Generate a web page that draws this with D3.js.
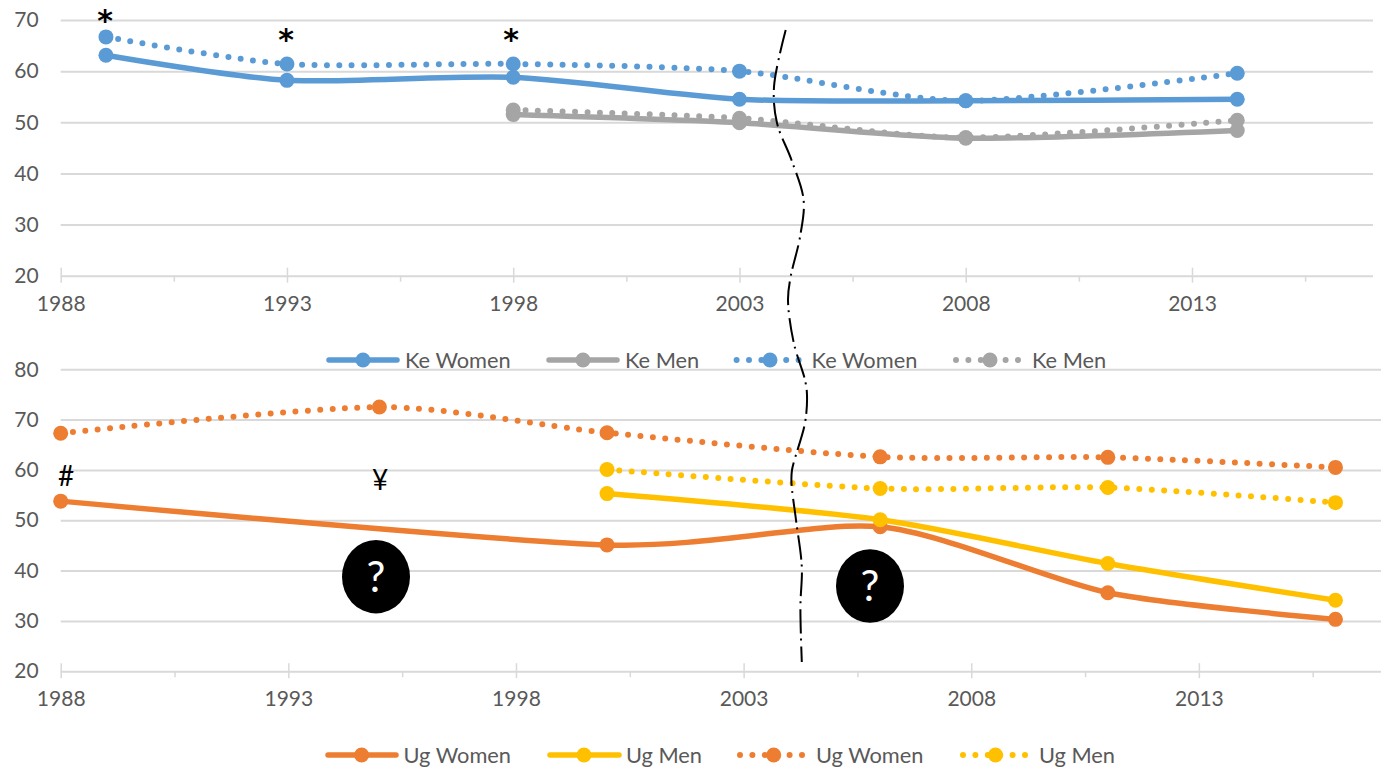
<!DOCTYPE html>
<html>
<head>
<meta charset="utf-8">
<script src="https://cdn.jsdelivr.net/npm/d3@7"></script>
<style>
  body { margin: 0; background: #fff; }
  text { font-family: Lato, sans-serif; }
</style>
</head>
<body>
<div id="chart"></div>
<script>
// Kenya panel
var keYears = [1989, 1993, 1998, 2003, 2008, 2014];
var keWomenSolid = [63.1, 58.2, 58.8, 54.5, 54.2, 54.5];
var keWomenDotted = [66.7, 61.4, 61.4, 60.0, 54.2, 59.6];
var keMenSolid = [null, null, 51.5, 49.9, 46.9, 48.4];
var keMenDotted = [null, null, 52.4, 50.8, 47.0, 50.4];

// Uganda panel
var ugYears = [1988, 1995, 2000, 2006, 2011, 2016];
var ugWomenSolid = [53.8, null, 45.1, 48.7, 35.6, 30.3];
var ugWomenDotted = [67.3, 72.5, 67.4, 62.6, 62.5, 60.5];
var ugMenSolid = [null, null, 55.3, 50.1, 41.4, 34.1];
var ugMenDotted = [null, null, 60.1, 56.3, 56.5, 53.5];

var keTicks = [20, 30, 40, 50, 60, 70];
var ugTicks = [20, 30, 40, 50, 60, 70, 80];
var yearTicks = [1988, 1993, 1998, 2003, 2008, 2013];
var minorTicks = [1990.5, 1995.5, 2000.5, 2005.5, 2010.5, 2015.5];

var blue = "#5B9BD5", grey = "#A5A5A5", orange = "#ED7D31", yellow = "#FFC000";

var svg = d3.select("#chart").append("svg")
    .attr("width", 1397)
    .attr("height", 767)
    .style("display", "block");

function drawPanel(p) {
    var x = d3.scaleLinear().domain([1988, 2017]).range([p.left, p.right]);
    var y = d3.scaleLinear().domain([20, p.top]).range([p.y0, p.y1]);
    var g = svg.append("g");

    // gridlines + value labels
    var yAxis = g.append("g")
        .attr("transform", "translate(" + p.left + ",0)")
        .call(d3.axisLeft(y).tickValues(p.ticks).tickSize(-(p.right - p.left)).tickPadding(22));
    yAxis.select(".domain").remove();
    yAxis.selectAll("line").attr("stroke", "#D9D9D9").attr("stroke-width", 2);
    yAxis.selectAll("text").attr("fill", "#595959").style("font-size", "21px");

    // year ticks, they cross the baseline
    var xAxis = g.append("g")
        .attr("transform", "translate(0," + (p.y0 - 8) + ")")
        .call(d3.axisBottom(x).tickValues(yearTicks).tickFormat(d3.format("d")).tickSize(15).tickPadding(13));
    xAxis.select(".domain").remove();
    xAxis.selectAll("line").attr("stroke", "#D9D9D9").attr("stroke-width", 1.5);
    xAxis.selectAll("text").attr("fill", "#595959").style("font-size", "21px");

    var minor = g.append("g")
        .attr("transform", "translate(0," + p.y0 + ")")
        .call(d3.axisBottom(x).tickValues(minorTicks).tickSize(6).tickFormat(""));
    minor.select(".domain").remove();
    minor.selectAll("line").attr("stroke", "#D9D9D9").attr("stroke-width", 1.5);

    var line = d3.line()
        .x(function(d) { return x(d.year); })
        .y(function(d) { return y(d.v); })
        .curve(d3.curveCardinal.tension(0.25));

    p.series.forEach(function(s) {
        var pts = p.years.map(function(yr, i) { return {year: yr, v: s.values[i]}; })
            .filter(function(d) { return d.v !== null; });
        var path = g.append("path")
            .datum(pts)
            .attr("fill", "none")
            .attr("stroke", s.color)
            .attr("stroke-linecap", "round")
            .attr("stroke-width", s.dotted ? 6 : 5.5)
            .attr("d", line);
        if (s.dotted) path.attr("stroke-dasharray", "0 12.4");
        g.selectAll(null)
            .data(pts)
            .enter().append("circle")
            .attr("cx", function(d) { return x(d.year); })
            .attr("cy", function(d) { return y(d.v); })
            .attr("r", 7.5)
            .attr("fill", s.color);
    });

    // legend
    var lg = g.append("g").attr("transform", "translate(0," + p.legendY + ")");
    p.series.forEach(function(s) {
        var ent = s.legend;
        lg.append("line")
            .attr("x1", ent.x1).attr("x2", ent.x2)
            .attr("stroke", s.color)
            .attr("stroke-linecap", "round")
            .attr("stroke-width", s.dotted ? 6 : 5.5)
            .attr("stroke-dasharray", s.dotted ? "0 12.4" : null);
        lg.append("circle")
            .attr("cx", ent.mx)
            .attr("r", 7.5)
            .attr("fill", s.color);
        lg.append("text")
            .attr("x", ent.tx)
            .attr("dy", "0.35em")
            .attr("fill", "#595959")
            .style("font-size", "21.8px")
            .text(s.name);
    });
}

drawPanel({
    left: 60.7, right: 1373, y0: 275.7, y1: 20, top: 70,
    ticks: keTicks, years: keYears, legendY: 360,
    series: [
        {name: "Ke Women", values: keWomenSolid, color: blue, legend: {x1: 329, x2: 397, mx: 363, tx: 405}},
        {name: "Ke Men", values: keMenSolid, color: grey, legend: {x1: 549, x2: 617, mx: 583, tx: 625}},
        {name: "Ke Women", values: keWomenDotted, color: blue, dotted: true, legend: {x1: 736.6, x2: 800, mx: 770, tx: 811.6}},
        {name: "Ke Men", values: keMenDotted, color: grey, dotted: true, legend: {x1: 956, x2: 1020, mx: 990, tx: 1032}}
    ]
});

drawPanel({
    left: 60.7, right: 1381, y0: 671.2, y1: 369.3, top: 80,
    ticks: ugTicks, years: ugYears, legendY: 755,
    series: [
        {name: "Ug Women", values: ugWomenSolid, color: orange, legend: {x1: 328, x2: 396, mx: 361.6, tx: 403.6}},
        {name: "Ug Men", values: ugMenSolid, color: yellow, legend: {x1: 550, x2: 619, mx: 584, tx: 626}},
        {name: "Ug Women", values: ugWomenDotted, color: orange, dotted: true, legend: {x1: 740, x2: 805, mx: 773.7, tx: 816}},
        {name: "Ug Men", values: ugMenDotted, color: yellow, dotted: true, legend: {x1: 963, x2: 1029, mx: 995.5, tx: 1039}}
    ]
});

// hand drawn break between the two survey periods
var breakLine = [[785.7, 30], [774, 87], [777, 123], [791.5, 160], [803.6, 200], [800, 237], [790.6, 277],
    [788, 300], [793.8, 343], [805, 380], [807, 395], [805, 423], [792, 470], [791.5, 483], [796, 520],
    [801.8, 567], [800.4, 607], [801.8, 662]];
svg.append("path")
    .attr("d", d3.line().curve(d3.curveCatmullRom)(breakLine))
    .attr("fill", "none")
    .attr("stroke", "#000")
    .attr("stroke-width", 2)
    .attr("stroke-dasharray", "24 5 2 6");

// footnote marks
var marks = [
    {t: "*", x: 105, y: 31, size: 30, font: "DejaVu Sans", weight: "bold"},
    {t: "*", x: 286, y: 50, size: 30, font: "DejaVu Sans", weight: "bold"},
    {t: "*", x: 511, y: 50, size: 30, font: "DejaVu Sans", weight: "bold"},
    {t: "#", x: 66, y: 486, size: 28, font: "Lato", weight: "normal"},
    {t: "¥", x: 380, y: 490, size: 28, font: "Lato", weight: "normal"}
];
svg.selectAll(null).data(marks).enter().append("text")
    .attr("x", function(d) { return d.x; })
    .attr("y", function(d) { return d.y; })
    .attr("text-anchor", "middle")
    .attr("fill", "#000")
    .style("font-family", function(d) { return d.font; })
    .style("font-weight", function(d) { return d.weight; })
    .style("font-size", function(d) { return d.size + "px"; })
    .text(function(d) { return d.t; });

var bubbles = [{x: 376, y: 576.7}, {x: 870, y: 586}];
var bubble = svg.selectAll(null).data(bubbles).enter().append("g")
    .attr("transform", function(d) { return "translate(" + d.x + "," + d.y + ")"; });
bubble.append("ellipse").attr("rx", 34).attr("ry", 36.7).attr("fill", "#000");
bubble.append("text")
    .attr("text-anchor", "middle")
    .attr("dy", "0.36em")
    .attr("fill", "#fff")
    .style("font-size", "42px")
    .text("?");
</script>
</body>
</html>
